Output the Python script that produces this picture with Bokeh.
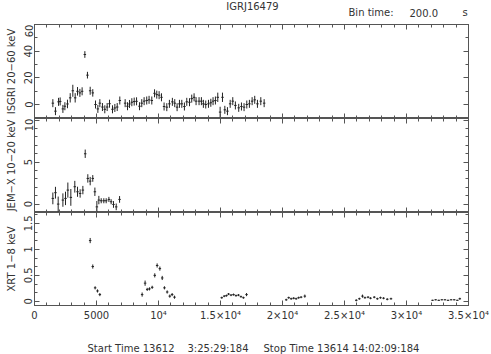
from bokeh.plotting import figure
from bokeh.layouts import column
from bokeh.models import (Range1d, LinearAxis, SingleIntervalTicker, Label, ColumnDataSource,
                          CustomLabelingPolicy)
from bokeh.embed import file_html
from bokeh.resources import INLINE

BIN = 200.0  # s

# ---------------- data ----------------
isgri_t = [1480, 1690, 1940, 2070, 2290, 2450, 2660, 2880, 3090, 3280, 3470, 3660, 3840,
           4060, 4270, 4490, 4700, 4920, 5110, 5270, 5480, 5670, 5860, 6050, 6290, 6480,
           6670, 6880, 7310, 7500, 7660, 7850, 8040, 8230, 8470, 8650, 8840, 9050, 9240,
           9460, 9680, 9860, 10050, 10240, 10450, 10670, 10880, 11120, 11310, 11500, 11690,
           11880, 12090, 12280, 12500, 12680, 12870, 13030, 13270, 13460, 13620, 13810,
           14030, 14220, 14400, 14590, 14780, 14970, 15160, 15350, 15560, 15780, 15990,
           16200, 16470, 16690, 16900, 17120, 17330, 17550, 17760, 17980, 18250, 18520]
isgri_rate = [1.0, -5.0, 2.0, 2.3, -3.3, -1.3, 0.4, 5.0, 10.3, 5.0, 9.9, 8.7, 9.9,
              37.5, 22.0, 10.3, 8.7, 0.0, -3.3, 1.0, -1.9, -3.6, -1.9, 0.6, -3.6, -2.6,
              -1.9, 3.0, 1.0, -1.3, 0.4, 1.7, 2.2, 2.4, -1.3, 1.0, 2.5, 3.0, 3.5,
              3.0, 8.4, 7.4, 7.0, 5.4, -1.5, -2.0, 0.5, 2.0, 1.0, -2.0, 0.5,
              0.5, -1.5, 2.0, 1.7, 4.4, 5.4, 2.5, 2.5, 2.5, 0.5, 0.0,
              0.5, 1.3, 2.5, 3.0, 5.4, -5.7, 5.4, -4.0, -5.0, 0.5, 2.5,
              -0.7, -2.5, -1.5, -2.0, 0.0, 0.5, 2.5, 3.5, 0.5, 2.5, 1.0]
isgri_err = [3.0, 3.0, 3.0, 3.0, 3.0, 3.0, 3.2, 3.5, 4.5, 3.5, 3.2, 3.0, 3.0,
             2.5, 2.5, 3.0, 2.8, 3.0, 3.0, 3.0, 3.0, 3.0, 3.0, 3.0, 3.0, 3.0,
             3.0, 3.0, 3.0, 3.0, 3.0, 3.0, 3.0, 3.0, 3.0, 3.0, 3.0, 3.0, 3.0,
             3.0, 3.0, 3.0, 3.0, 3.0, 3.0, 3.0, 3.0, 3.0, 3.0, 3.0, 3.0,
             3.0, 3.0, 3.0, 3.0, 3.0, 3.0, 3.0, 3.0, 3.0, 3.0, 3.0,
             3.0, 3.0, 3.0, 3.0, 3.5, 4.0, 3.5, 3.0, 3.0, 3.0, 3.0,
             3.0, 3.0, 3.0, 3.0, 3.0, 3.0, 3.0, 3.0, 3.0, 3.0, 3.0]

jemx_t = [1480, 1690, 1910, 2290, 2500, 2690, 2930, 3250, 3470, 3680, 3900, 4090, 4300,
          4490, 4700, 4870, 5030, 5190, 5380, 5590, 5780, 6000, 6180, 6370, 6590, 6860]
jemx_rate = [0.68, 1.36, 0.0, 0.48, 0.68, 1.67, 0.8, 2.07, 1.47, 1.27, 1.67, 6.0, 3.06,
             2.74, 3.06, 1.47, -0.33, 0.48, 0.4, 0.4, 0.4, 0.56, 0.28, -0.04, -0.33, 0.56]
jemx_err = [0.7, 0.7, 0.9, 0.8, 0.8, 0.9, 1.0, 0.7, 0.6, 0.5, 0.5, 0.5, 0.5,
            0.5, 0.4, 0.5, 0.7, 0.5, 0.3, 0.3, 0.3, 0.3, 0.3, 0.4, 0.4, 0.4]

xrt_t = [4490, 4700, 4890, 5080, 5270,
         8680, 8920, 9090, 9270, 9490, 9700, 9890, 10110, 10300, 10480, 10700, 10910, 11100, 11290,
         15100, 15300, 15480, 15650, 15850, 16050, 16250, 16450, 16650, 16850, 17100,
         20300, 20500, 20700, 20900, 21100, 21300, 21500, 21800,
         25950, 26200, 26450, 26650, 26900, 27100, 27400, 27650, 27900, 28150, 28450, 28750,
         32100, 32350, 32600, 32850, 33100, 33350, 33600, 33850, 34100, 34300]
xrt_rate = [1.17, 0.67, 0.26, 0.20, 0.13,
            0.13, 0.35, 0.23, 0.24, 0.27, 0.50, 0.69, 0.63, 0.45, 0.26, 0.18, 0.10, 0.13, 0.08,
            0.07, 0.10, 0.11, 0.14, 0.12, 0.13, 0.11, 0.12, 0.09, 0.07, 0.13,
            0.03, 0.07, 0.05, 0.06, 0.05, 0.07, 0.08, 0.10,
            0.02, 0.05, 0.10, 0.07, 0.08, 0.06, 0.08, 0.05, 0.07, 0.06, 0.04, 0.05,
            0.02, 0.03, 0.02, 0.03, 0.03, 0.02, 0.03, 0.03, 0.02, 0.05]
xrt_err = [0.05, 0.04, 0.03, 0.03, 0.03,
           0.04, 0.05, 0.03, 0.03, 0.03, 0.04, 0.04, 0.04, 0.04, 0.03, 0.03, 0.03, 0.03, 0.03,
           0.02, 0.02, 0.02, 0.02, 0.02, 0.02, 0.02, 0.02, 0.02, 0.02, 0.03,
           0.02, 0.02, 0.02, 0.02, 0.02, 0.02, 0.02, 0.03,
           0.02, 0.02, 0.03, 0.02, 0.02, 0.02, 0.02, 0.02, 0.02, 0.02, 0.02, 0.02,
           0.01, 0.01, 0.01, 0.01, 0.01, 0.01, 0.01, 0.01, 0.01, 0.02]

x_tick_values = [0, 5000, 10000, 15000, 20000, 25000, 30000, 35000]
x_tick_labels = ["0", "5000", "10\u2074", "1.5\u00d710\u2074", "2\u00d710\u2074",
                 "2.5\u00d710\u2074", "3\u00d710\u2074", "3.5\u00d710\u2074"]
xrt_tick_values = [0, 0.5, 1, 1.5]
xrt_tick_labels = ["0", "0.5", "1", "1.5"]

title_text = "IGRJ16479"
bin_texts = ["Bin time:", "200.0", "s"]
start_texts = ["Start Time 13612", "3:25:29:184"]
stop_text = "Stop Time 13614 14:02:09:184"

# ---------------- style ----------------
FONT = "DejaVu Sans"
AX = "#555555"
TXT = "#333333"
MARK = "#222222"
FS = "10px"
LEFT, RIGHT, FW = 34, 22, 434
XMAX = 35000

xr = Range1d(0, XMAX)


def px_to_t(px):
    # page pixel column -> time coordinate of the shared x range
    return (px - LEFT) * XMAX / FW


def style_axis(ax, ticker, show_labels):
    ax.ticker = ticker
    ax.axis_line_color = AX
    ax.major_tick_line_color = AX
    ax.minor_tick_line_color = AX
    ax.major_tick_in = 5
    ax.major_tick_out = 0
    ax.minor_tick_in = 3
    ax.minor_tick_out = 0
    if show_labels:
        ax.major_label_text_font = FONT
        ax.major_label_text_font_size = FS
        ax.major_label_text_color = TXT
        ax.major_label_standoff = 4
    else:
        ax.major_label_text_font_size = "0px"
        ax.major_label_standoff = 0
        ax.major_label_policy = CustomLabelingPolicy(code="if (false) { yield 0 }")
        ax.axis_label = None


def panel(t, v, e, yrange, yint, nminor, ylabel, frame_h, bottom, xlabels, overrides=None):
    p = figure(x_range=xr, y_range=Range1d(*yrange), frame_width=FW, frame_height=frame_h,
               min_border_left=LEFT, min_border_right=RIGHT, min_border_top=0,
               min_border_bottom=bottom, output_backend="svg", toolbar_location=None)
    p.grid.visible = False
    p.outline_line_color = AX
    src = ColumnDataSource(dict(
        t=t, v=v,
        lo=[a - b for a, b in zip(v, e)], hi=[a + b for a, b in zip(v, e)],
        t0=[a - BIN / 2 for a in t], t1=[a + BIN / 2 for a in t]))
    p.segment("t", "lo", "t", "hi", source=src, line_color=MARK, line_width=1)
    p.segment("t0", "v", "t1", "v", source=src, line_color=MARK, line_width=1)

    xt = lambda: SingleIntervalTicker(interval=5000, num_minor_ticks=5)
    yt = lambda: SingleIntervalTicker(interval=yint, num_minor_ticks=nminor)

    xb = p.xaxis[0]
    style_axis(xb, xt(), xlabels)
    if xlabels:
        xb.major_label_overrides = dict(zip(x_tick_values, x_tick_labels))
    xa = LinearAxis()
    style_axis(xa, xt(), False)
    p.add_layout(xa, "above")

    yl = p.yaxis[0]
    style_axis(yl, yt(), True)
    yl.major_label_orientation = "vertical"
    yl.major_label_standoff = 2
    yl.axis_label = ylabel
    yl.axis_label_text_font = FONT
    yl.axis_label_text_font_size = FS
    yl.axis_label_text_font_style = "normal"
    yl.axis_label_text_color = TXT
    yl.axis_label_standoff = 5
    if overrides:
        yl.major_label_overrides = overrides
    yrt = LinearAxis()
    style_axis(yrt, yt(), False)
    p.add_layout(yrt, "right")
    return p


def text_strip(y0, y1):
    # strip with the same frame geometry as the panels; y in page pixels
    f = figure(x_range=xr, y_range=Range1d(y1, y0), frame_width=FW, frame_height=y1 - y0,
               min_border_left=LEFT, min_border_right=RIGHT, min_border_top=0,
               min_border_bottom=0, x_axis_type=None, y_axis_type=None,
               output_backend="svg", toolbar_location=None)
    f.outline_line_color = None
    f.grid.visible = False
    return f


def lab(p, px, y, text, align="left"):
    p.add_layout(Label(x=px_to_t(px), y=y, text=text, text_font=FONT, text_font_size=FS,
                       text_color=TXT, text_align=align, text_baseline="middle"))


top = text_strip(0, 24)
lab(top, 252, 6, title_text, "center")
lab(top, 348, 12, bin_texts[0])
lab(top, 409, 12, bin_texts[1])
lab(top, 462, 12, bin_texts[2])

p1 = panel(isgri_t, isgri_rate, isgri_err, (-10.5, 60), 20, 2, "ISGRI 20\u221260 keV",
           94, 0, False)
p2 = panel(jemx_t, jemx_rate, jemx_err, (-1.0, 10.2), 5, 5, "JEM\u2212X 10\u221220 keV",
           94, 0, False)
p3 = panel(xrt_t, xrt_rate, xrt_err, (-0.08, 1.71), 0.5, 3, "XRT 1\u22128 keV",
           93, 22, True, dict(zip(xrt_tick_values, xrt_tick_labels)))

bottom = text_strip(327, 354)
lab(bottom, 87, 348, start_texts[0])
lab(bottom, 187, 348, start_texts[1])
lab(bottom, 263, 348, stop_text)

layout = column(top, p1, p2, p3, bottom, spacing=0)
open("out.html", "w").write(file_html(layout, INLINE))
